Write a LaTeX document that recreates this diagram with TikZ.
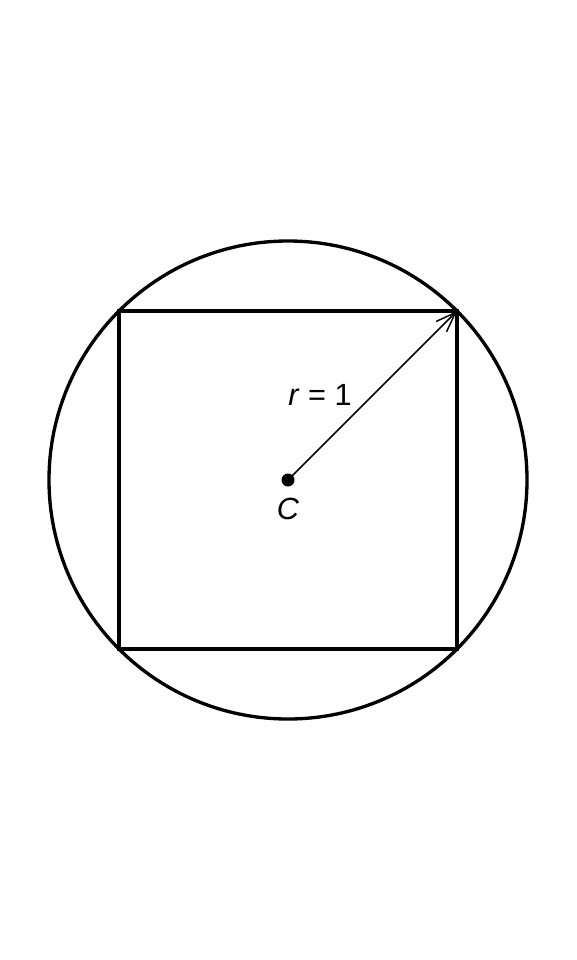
\documentclass[tikz,border=0pt]{standalone}
\usepackage{fontspec}
\setmainfont{Liberation Sans}
\usetikzlibrary{arrows.meta}
\begin{document}
\begin{tikzpicture}[x=0.75pt,y=-0.75pt,
  thick line/.style={line width=2.5pt,black},
  lbl/.style={font=\fontsize{23}{27}\selectfont,inner sep=0pt}]
\useasboundingbox (0,0) rectangle (576,960);
\coordinate (C) at (288,480);
\coordinate (TR) at (457,311);
\draw[thick line] (C) circle (239);
\draw[thick line,line join=miter] (119,311) rectangle (457,649);
\draw[line width=1.1pt,-{Straight Barb[length=15pt,width=11pt,line width=1.1pt]}] (C) -- (TR);
\fill (C) circle (6.5);
\node[lbl] (rl) at (320,395) {\textit{r} = 1};
\node[lbl] (cl) at (288,509) {\textit{C}};
\end{tikzpicture}
\end{document}
